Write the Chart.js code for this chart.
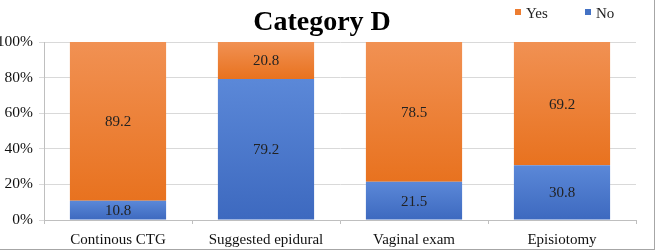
<!DOCTYPE html>
<html>
<head>
<meta charset="utf-8">
<script src="https://cdn.jsdelivr.net/npm/chart.js@4"></script>
<style>
  html, body { margin: 0; padding: 0; background: #fff; }
  body { width: 662px; height: 252px; overflow: hidden; position: relative; font-family: "Liberation Serif", "Times New Roman", serif; }
  #frame { position: absolute; left: -2px; top: -2px; width: 655px; height: 250px; border: 1px solid #a6a6a6; }
  #wrap { position: absolute; left: 0; top: 0; width: 662px; height: 252px; }
  #title { position: absolute; left: 0; width: 644px; top: 5px; text-align: center; font-size: 28px; font-weight: bold; color: #000; }
  #legend { position: absolute; top: 5px; left: 515px; font-size: 15px; color: #222; white-space: nowrap; }
  #legend span.item { display: inline-block; width: 70px; }
  #legend i { display: inline-block; width: 6px; height: 6px; margin-right: 5px; vertical-align: 3px; }
</style>
</head>
<body>
<div id="frame"></div>
<div id="wrap"><canvas id="chart" width="662" height="252"></canvas></div>
<div id="title">Category D</div>
<div id="legend"><span class="item"><i style="background:#ED7D31"></i>Yes</span><span class="item"><i style="background:#4472C4"></i>No</span></div>
<script>
// chart data
const categories = ['Continous CTG', 'Suggested epidural', 'Vaginal exam', 'Episiotomy'];
const noValues = [10.8, 79.2, 21.5, 30.8];
const yesValues = [89.2, 20.8, 78.5, 69.2];
const yTicks = [0, 20, 40, 60, 80, 100];

const serif = '"Liberation Serif", "Times New Roman", serif';

// vertical gradient for each stacked segment, lighter at top
const segmentFill = (light, dark) => (ctx) => {
  const chart = ctx.chart;
  if (!chart.chartArea || ctx.type !== 'data') return dark;
  const y = chart.scales.y;
  const i = ctx.dataIndex;
  let base = 0;
  for (let d = 0; d < ctx.datasetIndex; d++) base += chart.data.datasets[d].data[i];
  const top = base + chart.data.datasets[ctx.datasetIndex].data[i];
  const y0 = y.getPixelForValue(base);
  const y1 = y.getPixelForValue(top);
  if (!isFinite(y0) || !isFinite(y1) || y0 === y1) return dark;
  const g = chart.ctx.createLinearGradient(0, y1, 0, y0);
  g.addColorStop(0, light);
  g.addColorStop(1, dark);
  return g;
};

// value labels in the middle of every segment
const valueLabels = {
  id: 'valueLabels',
  afterDatasetsDraw(chart) {
    const ctx = chart.ctx;
    ctx.save();
    ctx.font = '15px ' + serif;
    ctx.fillStyle = '#222';
    ctx.textAlign = 'center';
    ctx.textBaseline = 'middle';
    chart.data.datasets.forEach((ds, di) => {
      chart.getDatasetMeta(di).data.forEach((el, i) => {
        ctx.fillText(ds.data[i].toFixed(1), el.x, (el.y + el.base) / 2 + 1);
      });
    });
    ctx.restore();
  }
};

new Chart(document.getElementById('chart'), {
  type: 'bar',
  data: {
    labels: categories,
    datasets: [
      { label: 'No', data: noValues, backgroundColor: segmentFill('#5B88D8', '#3D69BF') },
      { label: 'Yes', data: yesValues, backgroundColor: segmentFill('#F19153', '#E8721F') }
    ]
  },
  options: {
    responsive: false,
    animation: false,
    categoryPercentage: 0.65,
    barPercentage: 1,
    layout: { padding: { top: 42, right: 26, left: 0, bottom: 0 } },
    plugins: {
      legend: { display: false },
      title: { display: false },
      tooltip: { enabled: false }
    },
    scales: {
      x: {
        stacked: true,
        afterFit: (s) => { s.height = 32; },
        grid: { drawOnChartArea: false, tickLength: 4, color: '#bfbfbf', offset: true },
        border: { color: '#bfbfbf' },
        ticks: { color: '#111', padding: 7, font: { family: serif, size: 15 } }
      },
      y: {
        stacked: true,
        min: 0,
        max: 100,
        afterFit: (s) => { s.width = 44; },
        afterBuildTicks: (s) => { s.ticks = yTicks.map(v => ({ value: v })); },
        grid: { color: '#d9d9d9', tickLength: 5 },
        border: { color: '#bfbfbf' },
        ticks: {
          color: '#111',
          padding: 6,
          font: { family: serif, size: 15.5 },
          callback: (v) => v + '%'
        }
      }
    }
  },
  plugins: [valueLabels]
});
</script>
</body>
</html>
